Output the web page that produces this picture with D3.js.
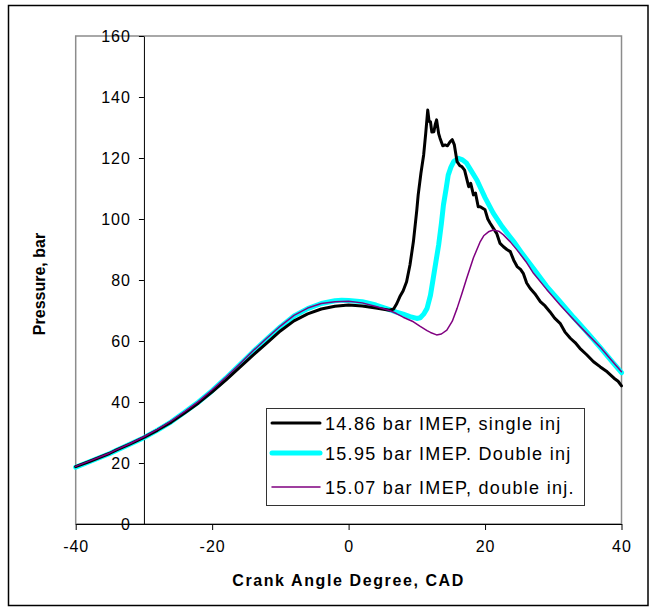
<!DOCTYPE html>
<html>
<head>
<meta charset="utf-8">
<script src="https://cdn.jsdelivr.net/npm/d3@7"></script>
<style>
  html, body { margin: 0; padding: 0; background: #fff; }
  svg { display: block; font-family: Arial, 'Liberation Sans', sans-serif; }
</style>
</head>
<body>
<div id="chart"></div>
<script>
  // series labels (legend order)
  var seriesNames = ['14.86 bar IMEP, single inj', '15.95 bar IMEP. Double inj', '15.07 bar IMEP, double inj.'];

  // single injection (black)
  var singleCad = [-40, -38, -36, -35, -34, -32, -30, -28, -26, -24, -22, -20, -18, -16, -14, -12, -10, -8, -6, -4, -2, 0, 2, 4, 6, 6.6,
    7.07, 7.5, 8, 8.5, 9, 9.5, 10, 10.2, 10.6, 11, 11.3, 11.6, 11.8, 12, 12.2, 12.5, 12.7, 12.9, 13.2, 13.4, 13.8, 14.15, 14.5, 14.9, 15.2, 15.5,
    15.9, 16.3, 16.6, 17, 17.3, 17.6, 17.9, 18.3, 18.6, 19, 19.3, 20, 20.4, 20.75, 21.2, 21.7, 22.2, 22.7, 23.2, 23.7, 24.2, 24.7, 25.2, 25.6,
    26.1, 26.6, 27.3, 28.1, 28.8, 29.5, 30.2, 31, 31.7, 32.5, 33.2, 33.9, 34.9, 35.9, 36.9, 37.9, 38.9, 39.5, 40];
  var singleP = [18.8, 20.5, 22.3, 23.2, 24.3, 26.3, 28.4, 30.8, 33.4, 36.5, 39.7, 43.3, 47.2, 51.3, 55.4, 59.3, 63.3, 66.6, 68.9, 70.5, 71.4, 71.8, 71.5, 70.8, 70.1, 70.5,
    72.3, 74.5, 76.5, 79.4, 85, 92.6, 103, 107.9, 115, 121, 128, 135.7, 132, 131.9, 128.5, 128.6, 131, 132.5, 128, 126.5, 124, 124.3, 124, 125.4, 126, 124.3,
    118.8, 117.5, 117.2, 116, 113.3, 110.6, 111.7, 107.9, 108.5, 104, 104, 103, 100, 98.6, 97, 95.3, 92, 90.9, 90, 89.3, 86.5, 84.4, 83.5, 82.2,
    79, 77.3, 75.5, 72.9, 71.5, 69.6, 67.5, 65.8, 63, 60.9, 59.5, 57.6, 55.5, 53.2, 51.5, 49.9, 47.8, 46.8, 45.3];

  // double injection, 15.95 bar (cyan)
  var doubleCad = [-40, -38, -36, -35, -34, -32, -30, -28, -26, -24, -22, -20, -18, -16, -14, -12, -10, -8, -6, -4, -2, -1, 0, 2, 4, 6, 7, 8, 9, 10, 10.5,
    11, 11.5, 12, 12.4, 12.8, 13.2, 13.6, 13.9, 14.3, 14.6, 15, 15.4, 16.1, 16.7, 17.3, 18, 18.8, 20, 21.2, 22.5, 24.2, 25.5, 27.1, 29, 31, 33, 34.9, 37, 38.5, 40];
  var doubleP = [18.6, 20.4, 22.2, 23.1, 24.2, 26.2, 28.3, 30.8, 33.5, 36.7, 40, 43.7, 47.8, 52.1, 56.5, 60.6, 64.6, 68.2, 70.6, 72.3, 73.2, 73.4, 73.3, 72.9, 71.8, 70.3, 69.5, 68.8, 68, 67.4, 67.6,
    68.8, 70.7, 75, 80.5, 86, 91.5, 98.5, 104.6, 110, 114.4, 117, 118.8, 119.9, 119.4, 118.3, 115.7, 112.8, 107, 101.9, 97.5, 92.6, 88.5, 83.8, 78, 72.9, 67.7, 63, 57.6, 53.6, 49.6];

  // double injection, 15.07 bar (purple)
  var lateCad = [-40, -38, -36, -35, -34, -32, -30, -28, -26, -24, -22, -20, -18, -16, -14, -12, -10, -8, -6, -4, -2, 0, 2, 4, 6, 7, 8, 9, 9.5, 10.5, 11.5, 12,
    12.9, 13.6, 14.4, 15.2, 15.9, 16.6, 17.3, 18.3, 19.3, 19.8, 20.5, 21.2, 22, 22.7, 23.7, 24.7, 26, 27.1, 29, 31, 33, 34.9, 37, 38.5, 40];
  var lateP = [18.9, 20.6, 22.4, 23.3, 24.4, 26.4, 28.6, 31, 33.8, 36.9, 40.2, 44, 48.1, 52.4, 56.8, 60.9, 64.9, 68.4, 70.8, 72.3, 72.9, 73, 72.5, 71.3, 70, 69, 67.8, 66.8, 66.3, 64.8, 63.4, 62.8,
    62, 62.3, 63.6, 66.5, 70.7, 75.5, 80.5, 87.3, 92.6, 94.5, 95.8, 96.4, 96, 94.8, 92.5, 89.8, 86, 82.2, 77, 71.8, 67, 62.5, 57.7, 53.8, 49.9];

  var xTicks = [-40, -20, 0, 20, 40];
  var yTicks = [0, 20, 40, 60, 80, 100, 120, 140, 160];

  var width = 657, height = 613;
  var margin = {top: 36, right: 35.5, bottom: 89, left: 75.7};

  var svg = d3.select('#chart')
    .append('svg')
      .attr('width', width)
      .attr('height', height);

  // outer frame
  svg.append('rect')
    .attr('x', 8.5)
    .attr('y', 5.5)
    .attr('width', 639.5)
    .attr('height', 600)
    .style('fill', 'none')
    .style('stroke', '#000')
    .style('stroke-width', 1.5);

  var x = d3.scaleLinear().domain([-40, 40]).range([margin.left, width - margin.right]);
  var y = d3.scaleLinear().domain([0, 160]).range([height - margin.bottom, margin.top]);

  // plot area frame (gray)
  svg.append('rect')
    .attr('x', x(-40))
    .attr('y', y(160))
    .attr('width', x(40) - x(-40))
    .attr('height', y(0) - y(160))
    .style('fill', 'none')
    .style('stroke', '#8c8c8c')
    .style('stroke-width', 1.5);

  // x axis
  var xAxis = svg.append('g')
    .attr('transform', 'translate(0,' + y(0) + ')')
    .call(d3.axisBottom(x).tickValues(xTicks).tickFormat(String)
      .tickSizeInner(6).tickSizeOuter(0).tickPadding(11));
  xAxis.select('.domain').style('stroke', '#000');
  xAxis.selectAll('text')
    .style('font-size', '16px')
    .style('letter-spacing', '1px')
    .style('fill', '#000')
    .style('font-family', 'Arial, "Liberation Sans", sans-serif');

  // y axis sits at x = -30
  var yAxis = svg.append('g')
    .attr('transform', 'translate(' + x(-30) + ',0)')
    .call(d3.axisLeft(y).tickValues(yTicks).tickFormat(String)
      .tickSizeInner(5).tickSizeOuter(0).tickPadding(8));
  yAxis.select('.domain').style('stroke', '#000');
  yAxis.selectAll('text')
    .style('font-size', '16px')
    .style('letter-spacing', '1px')
    .style('fill', '#000')
    .style('font-family', 'Arial, "Liberation Sans", sans-serif');

  // axis titles
  svg.append('text')
    .attr('x', x(0))
    .attr('y', 586)
    .style('text-anchor', 'middle')
    .style('font-size', '16px')
    .style('font-weight', 'bold')
    .style('letter-spacing', '1.6px')
    .text('Crank Angle Degree, CAD');

  svg.append('text')
    .attr('transform', 'translate(45,284) rotate(-90)')
    .style('text-anchor', 'middle')
    .style('font-size', '16px')
    .style('font-weight', 'bold')
    .text('Pressure, bar');

  var line = d3.line()
    .x(function(d) { return x(d[0]); })
    .y(function(d) { return y(d[1]); });

  var series = [
    {name: seriesNames[1], data: d3.zip(doubleCad, doubleP), color: '#00ffff', w: 5},
    {name: seriesNames[0], data: d3.zip(singleCad, singleP), color: '#000000', w: 3},
    {name: seriesNames[2], data: d3.zip(lateCad, lateP), color: '#800080', w: 1.5}
  ];

  svg.selectAll('path.series')
    .data(series)
    .enter()
    .append('path')
      .attr('class', 'series')
      .attr('d', function(d) { return line(d.data); })
      .style('fill', 'none')
      .style('stroke', function(d) { return d.color; })
      .style('stroke-width', function(d) { return d.w; })
      .style('stroke-linejoin', 'round')
      .style('stroke-linecap', 'round');

  // legend
  var legendRows = [
    {name: seriesNames[0], color: '#000000', w: 3, cy: 423},
    {name: seriesNames[1], color: '#00ffff', w: 5, cy: 453},
    {name: seriesNames[2], color: '#800080', w: 1.5, cy: 487}
  ];

  var legend = svg.append('g');
  legend.append('rect')
    .attr('x', 266.5)
    .attr('y', 408.5)
    .attr('width', 318)
    .attr('height', 97)
    .style('fill', '#fff')
    .style('stroke', '#333')
    .style('stroke-width', 1);

  var rows = legend.selectAll('g.row')
    .data(legendRows)
    .enter()
    .append('g')
      .attr('class', 'row');

  rows.append('line')
    .attr('x1', 272)
    .attr('x2', 320)
    .attr('y1', function(d) { return d.cy; })
    .attr('y2', function(d) { return d.cy; })
    .style('stroke', function(d) { return d.color; })
    .style('stroke-width', function(d) { return d.w; })
    .style('stroke-linecap', 'round');

  rows.append('text')
    .attr('x', 325)
    .attr('y', function(d) { return d.cy + 6.5; })
    .style('font-size', '18px')
    .style('letter-spacing', '1.3px')
    .text(function(d) { return d.name; });
</script>
</body>
</html>
